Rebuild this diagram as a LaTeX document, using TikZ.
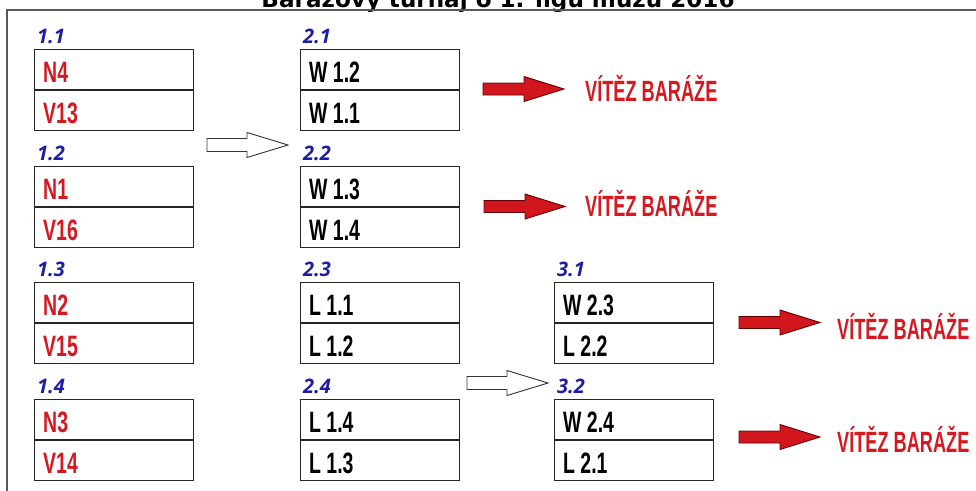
\documentclass[tikz,border=0pt]{standalone}
\usepackage{fontspec}
\usepackage{graphicx}
\newfontfamily\titf{DejaVu Sans}
\newfontfamily\condf[FakeStretch=0.66]{Liberation Sans}
\newfontfamily\vitaf[FakeStretch=0.62]{Liberation Sans}
\newfontfamily\labf{Open Sans}
\definecolor{txtred}{RGB}{213,25,32}
\definecolor{arrred}{RGB}{210,22,30}
\definecolor{labblue}{RGB}{30,30,165}
\tikzset{
  cell/.style={draw=black!85, line width=1.2pt, minimum width=159pt, minimum height=40pt, inner sep=0pt},
  txt/.style={inner sep=0pt, font=\condf\bfseries\fontsize{29.5}{32}\selectfont},
  lab/.style={inner sep=0pt, text=labblue, font=\labf\bfseries\itshape\fontsize{20}{22}\selectfont},
  vita/.style={inner sep=0pt, text=txtred, font=\vitaf\bfseries\fontsize{29.3}{32}\selectfont},
  warrow/.pic={\draw[line width=0.9pt, fill=white, draw=black!80] (0,-6.5) -- (40,-6.5) -- (40,-12.5) -- (81,0) -- (40,12.5) -- (40,6.5) -- (0,6.5) -- cycle;},
  rarrow/.pic={\draw[line width=0.9pt, fill=arrred, draw=black!60!red] (0,-6) -- (41,-6) -- (41,-12.5) -- (81,0) -- (41,12.5) -- (41,6) -- (0,6) -- cycle;}
}
\newcommand\matchbox[7]{%
  \node[cell, anchor=north west] (#1a) at (#2,#3) {};
  \node[cell, anchor=north] (#1b) at (#1a.south) {};
  \node[lab, anchor=base west] (#1l) at ([xshift=3pt, yshift=6pt]#1a.north west) {#4};
  \node[txt, text=#7, anchor=base west] (#1at) at ([xshift=9pt, yshift=-33pt]#1a.north west) {#5};
  \node[txt, text=#7, anchor=base west] (#1bt) at ([xshift=9pt, yshift=-33pt]#1b.north west) {#6};
}
\begin{document}
\begin{tikzpicture}[x=1pt, y=-1pt]
\useasboundingbox (0,0) rectangle (976,490);
\clip (0,0) rectangle (976,490);
\fill[white] (0,0) rectangle (976,490);
% title (cut off at the top edge, as in the reference)
\node[anchor=base, inner sep=0pt] (title) at (498,7) {\resizebox{473pt}{!}{\titf\bfseries Barážový turnaj o 1. ligu mužů 2016}};
% frame
\draw[black!65, line width=1.5pt] (7,495) -- (7,10) -- (980,10);
% column 1
\matchbox{m11}{34}{49}{1.1}{N4}{V13}{txtred}
\matchbox{m12}{34}{166}{1.2}{N1}{V16}{txtred}
\matchbox{m13}{34}{282}{1.3}{N2}{V15}{txtred}
\matchbox{m14}{34}{399}{1.4}{N3}{V14}{txtred}
% column 2
\matchbox{m21}{300}{49}{2.1}{W 1.2}{W 1.1}{black}
\matchbox{m22}{300}{166}{2.2}{W 1.3}{W 1.4}{black}
\matchbox{m23}{300}{282}{2.3}{L 1.1}{L 1.2}{black}
\matchbox{m24}{300}{399}{2.4}{L 1.4}{L 1.3}{black}
% column 3
\matchbox{m31}{554}{282}{3.1}{W 2.3}{L 2.2}{black}
\matchbox{m32}{554}{399}{3.2}{W 2.4}{L 2.1}{black}
% white arrows
\pic at (207,145) {warrow};
\pic at (467,383) {warrow};
% red arrows
\pic at (483,89) {rarrow};
\pic at (484,206.5) {rarrow};
\pic at (739,322.5) {rarrow};
\pic at (739,437) {rarrow};
% winner texts
\node[vita, anchor=base west] (v1) at (585,101) {VÍTĚZ BARÁŽE};
\node[vita, anchor=base west] (v2) at (585,216) {VÍTĚZ BARÁŽE};
\node[vita, anchor=base west] (v3) at (837,339) {VÍTĚZ BARÁŽE};
\node[vita, anchor=base west] (v4) at (837,452) {VÍTĚZ BARÁŽE};
\end{tikzpicture}
\end{document}
